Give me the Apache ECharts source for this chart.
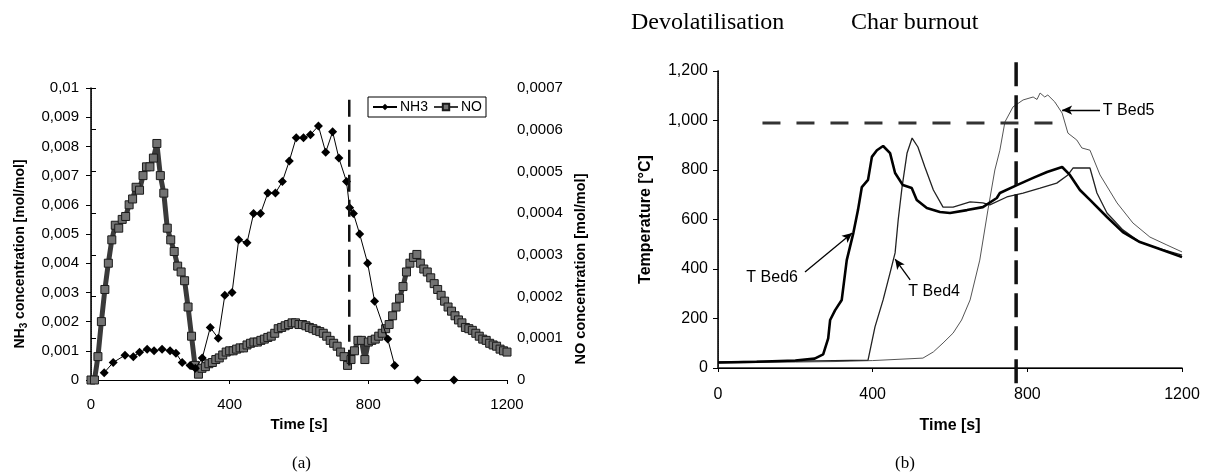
<!DOCTYPE html>
<html>
<head>
<meta charset="utf-8">
<script src="https://cdn.jsdelivr.net/npm/echarts@6.0.0/dist/echarts.min.js"></script>
<style>
  html, body { margin: 0; padding: 0; background: #fff; }
  #main { width: 1213px; height: 472px; }
</style>
</head>
<body>
<div id="main"></div>
<script>
// ---- panel (a): NH3 / NO concentrations ----
const nh3Time = [38, 64, 98, 122, 140, 162, 182, 205, 228, 245, 263, 286, 301, 321, 344, 367, 386, 407, 426, 450,
  469, 489, 510, 532, 552, 572, 592, 613, 633, 656, 677, 697, 715, 737, 746, 757, 775, 798, 818, 856, 876, 900, 942, 990, 1047];
const nh3Conc = [0.00025, 0.0006, 0.00085, 0.0008, 0.00095, 0.00105, 0.001, 0.00105, 0.001, 0.00092, 0.0006, 0.0005, 0.0004,
  0.00075, 0.0018, 0.00143, 0.0029, 0.003, 0.0048, 0.0047, 0.0057, 0.0057, 0.0064, 0.0064, 0.0068, 0.0075, 0.0083, 0.0083,
  0.0084, 0.0087, 0.0078, 0.0085, 0.0076, 0.0068, 0.0059, 0.0057, 0.005, 0.004, 0.0027, 0.0014, 0.0005, null, 0, null, 0];

const noTime = [0, 10, 20, 30, 40, 50, 60, 70, 80, 90, 100, 110, 120, 130, 140, 150, 160, 170, 180, 190,
  200, 210, 220, 230, 240, 250, 260, 270, 280, 290, 300, 310, 320, 330, 340, 350, 360, 370, 380, 390,
  400, 410, 420, 430, 440, 450, 460, 470, 480, 490, 500, 510, 520, 530, 540, 550, 560, 570, 580, 590,
  600, 610, 620, 630, 640, 650, 660, 670, 680, 690, 700, 710, 720, 730, 740, 750, 760, 770, 780, 790,
  800, 810, 820, 830, 840, 850, 860, 870, 880, 890, 900, 910, 920, 930, 940, 950, 960, 970, 980, 990,
  1000, 1010, 1020, 1030, 1040, 1050, 1060, 1070, 1080, 1090, 1100, 1110, 1120, 1130, 1140, 1150, 1160, 1170, 1180, 1190, 1200];
const noConc = [0, 0, 0.56e-4, 1.4e-4, 2.17e-4, 2.8e-4, 3.36e-4, 3.71e-4, 3.64e-4, 3.85e-4,
  3.92e-4, 4.2e-4, 4.34e-4, 4.62e-4, 4.55e-4, 4.9e-4, 5.11e-4, 5.11e-4, 5.32e-4, 5.67e-4,
  4.9e-4, 4.48e-4, 3.64e-4, 3.36e-4, 3.08e-4, 2.73e-4, 2.59e-4, 2.38e-4, 1.75e-4, 1.05e-4,
  0.35e-4, 0.14e-4, 0.28e-4, 0.32e-4, 0.39e-4, 0.42e-4, 0.49e-4, 0.53e-4, 0.6e-4, 0.67e-4,
  0.7e-4, 0.7e-4, 0.74e-4, 0.77e-4, 0.77e-4, 0.84e-4, 0.88e-4, 0.91e-4, 0.91e-4, 0.95e-4,
  0.98e-4, 1.02e-4, 1.05e-4, 1.12e-4, 1.23e-4, 1.26e-4, 1.3e-4, 1.33e-4, 1.37e-4, 1.37e-4,
  1.33e-4, 1.33e-4, 1.3e-4, 1.26e-4, 1.23e-4, 1.19e-4, 1.16e-4, 1.12e-4, 1.05e-4, 0.95e-4,
  0.88e-4, 0.81e-4, 0.67e-4, 0.56e-4, 0.35e-4, 0.49e-4, 0.7e-4, 0.95e-4, 0.95e-4, 0.49e-4,
  0.91e-4, 0.95e-4, 0.98e-4, 1.05e-4, 1.12e-4, 1.23e-4, 1.33e-4, 1.54e-4, 1.75e-4, 1.96e-4,
  2.24e-4, 2.59e-4, 2.8e-4, 2.94e-4, 3.01e-4, 2.8e-4, 2.66e-4, 2.59e-4, 2.45e-4, 2.31e-4,
  2.17e-4, 2.03e-4, 1.89e-4, 1.75e-4, 1.65e-4, 1.54e-4, 1.44e-4, 1.37e-4, 1.26e-4, 1.23e-4,
  1.19e-4, 1.12e-4, 1.05e-4, 0.98e-4, 0.95e-4, 0.88e-4, 0.84e-4, 0.81e-4, 0.74e-4, 0.7e-4, 0.67e-4];

// dashed marker line in (a): time, from, to
const markA = [745, 0.0096, 0.0005];

// ---- panel (b): bed temperatures ----
const bed6Time = [0, 100, 200, 250, 272, 285, 290, 303, 320, 333, 350, 362, 372, 388, 398, 411, 427, 445, 458, 478,
  501, 514, 540, 574, 600, 644, 685, 721, 729, 773, 815, 851, 890, 910, 936, 962, 1006, 1047, 1091, 1135, 1200];
const bed6Temp = [22, 25, 30, 38, 55, 120, 194, 234, 275, 436, 545, 638, 731, 760, 853, 880, 897, 868, 788, 739,
  727, 679, 646, 630, 626, 638, 650, 687, 707, 739, 768, 792, 812, 780, 719, 679, 610, 549, 509, 485, 448];

const bed4Time = [0, 100, 200, 300, 388, 406, 427, 445, 458, 466, 476, 489, 502, 517, 535, 557, 582, 608, 652, 685,
  703, 747, 789, 833, 876, 905, 918, 962, 980, 1006, 1047, 1091, 1135, 1200];
const bed4Temp = [25, 27, 28, 30, 32, 166, 275, 384, 465, 598, 731, 869, 929, 893, 812, 719, 650, 650, 671, 667,
  659, 691, 707, 727, 747, 780, 808, 808, 707, 626, 558, 509, 485, 456];

const bed5Time = [0, 100, 200, 300, 400, 530, 557, 582, 608, 630, 652, 677, 698, 716, 729, 742, 763, 789, 815, 825,
  833, 845, 853, 871, 890, 905, 928, 941, 962, 988, 1032, 1073, 1117, 1161, 1200];
const bed5Temp = [20, 22, 24, 26, 30, 40, 65, 101, 141, 194, 275, 436, 638, 800, 880, 994, 1055, 1083, 1095, 1085,
  1111, 1095, 1103, 1075, 1030, 949, 921, 889, 880, 780, 667, 586, 529, 497, 469];

// phase markers in (b)
const refLevel = [115, 877, 990];      // x from, x to, temperature
const phaseTime = [771, 1235, -85];    // time, y from, y to

// annotation labels: [text x, text y, arrow tail x, tail y, tip x, tip y]
const noteBed6 = [140, 364, 225, 388, 347, 545];
const noteBed4 = [559, 307, 497, 356, 458, 440];
const noteBed5 = [1062, 1042, 988, 1042, 890, 1042];

const zip = (xs, ys) => xs.map((x, i) => [x, ys[i] === null ? '-' : ys[i]]);

const FONT = 'Liberation Sans, Arial, sans-serif';
const SERIF = 'Liberation Serif, Times New Roman, serif';

const commaNum = (d) => (v) => v === 0 ? '0' : String(+v.toFixed(d)).replace('.', ',');
const thousands = (v) => v >= 1000 ? Math.floor(v / 1000) + ',' + String(v % 1000).padStart(3, '0') : String(v);
const plain = (v) => String(v);

function note(n, text) {
  return {
    markPoint: {
      silent: true, symbol: 'circle', symbolSize: 1,
      itemStyle: { color: 'rgba(0,0,0,0)' },
      label: { show: true, position: 'inside', formatter: text, color: '#000', fontFamily: FONT, fontSize: 16 },
      data: [{ coord: [n[0], n[1]] }]
    },
    markLine: {
      silent: true, symbol: ['none', 'arrow'], symbolSize: [7, 10],
      lineStyle: { color: '#000', width: 1.3, type: 'solid' },
      label: { show: false },
      data: [[{ coord: [n[2], n[3]] }, { coord: [n[4], n[5]] }]]
    }
  };
}

const chart = echarts.init(document.getElementById('main'));

const tickA = { color: '#000', fontFamily: FONT, fontSize: 15 };
const tickB = { color: '#000', fontFamily: FONT, fontSize: 16 };
const blackLine = { show: true, lineStyle: { color: '#000', width: 1 } };

const option = {
  backgroundColor: '#fff',
  animation: false,
  title: [
    { text: 'Devolatilisation', left: 626, top: 6, textStyle: { fontFamily: SERIF, fontSize: 24, fontWeight: 'normal', color: '#000' } },
    { text: 'Char burnout', left: 846, top: 6, textStyle: { fontFamily: SERIF, fontSize: 24, fontWeight: 'normal', color: '#000' } },
    { text: '(a)', left: 287, top: 450, textStyle: { fontFamily: SERIF, fontSize: 17, fontWeight: 'normal', color: '#000' } },
    { text: '(b)', left: 890, top: 450, textStyle: { fontFamily: SERIF, fontSize: 17, fontWeight: 'normal', color: '#000' } }
  ],
  legend: {
    data: ['NH3', 'NO'],
    left: 368, top: 97,
    orient: 'horizontal',
    backgroundColor: '#fff',
    borderColor: '#000', borderWidth: 1,
    padding: [3, 4, 3, 4],
    itemWidth: 24, itemHeight: 8, itemGap: 5,
    textStyle: { fontFamily: FONT, fontSize: 14, color: '#000', padding: [0, 0, 0, -2] }
  },
  grid: [
    { left: 91, top: 88, width: 416, height: 292 },
    { left: 718, top: 71, width: 464, height: 297 }
  ],
  xAxis: [
    {
      gridIndex: 0, type: 'value', min: 0, max: 1200, interval: 400,
      name: 'Time [s]', nameLocation: 'middle', nameGap: 35,
      nameTextStyle: { fontFamily: FONT, fontSize: 15, fontWeight: 'bold', color: '#000' },
      axisLine: { show: true, onZero: false, lineStyle: { color: '#000', width: 1 } },
      axisTick: { show: true, length: 4, lineStyle: { color: '#000' } },
      axisLabel: Object.assign({ margin: 17, formatter: plain }, tickA),
      splitLine: { show: false }
    },
    {
      gridIndex: 0, type: 'value', min: 0, max: 1200, position: 'top',
      axisLine: blackLine, axisTick: { show: false }, axisLabel: { show: false }, splitLine: { show: false }
    },
    {
      gridIndex: 1, type: 'value', min: 0, max: 1200, interval: 400,
      name: 'Time [s]', nameLocation: 'middle', nameGap: 50,
      nameTextStyle: { fontFamily: FONT, fontSize: 16, fontWeight: 'bold', color: '#000' },
      axisLine: { show: true, onZero: false, lineStyle: { color: '#222', width: 1.5 } },
      axisTick: { show: true, length: 4, lineStyle: { color: '#000' } },
      axisLabel: Object.assign({ margin: 19, formatter: plain }, tickB),
      splitLine: { show: false }
    },
    {
      gridIndex: 1, type: 'value', min: 0, max: 1200, position: 'top',
      axisLine: blackLine, axisTick: { show: false }, axisLabel: { show: false }, splitLine: { show: false }
    }
  ],
  yAxis: [
    {
      gridIndex: 0, type: 'value', min: 0, max: 0.01, interval: 0.001,
      name: '{b|NH}{s|3}{b| concentration [mol/mol]}', nameLocation: 'middle', nameGap: 62, nameRotate: 90,
      nameTextStyle: {
        padding: [0, 40, 0, 0],
        rich: {
          b: { fontFamily: FONT, fontSize: 14, fontWeight: 'bold', color: '#000', lineHeight: 18 },
          s: { fontFamily: FONT, fontSize: 10, fontWeight: 'bold', color: '#000', lineHeight: 18, verticalAlign: 'bottom' }
        }
      },
      axisLine: { show: true, lineStyle: { color: '#555', width: 1, type: 'dotted' } },
      axisTick: { show: true, length: 5, lineStyle: { color: '#000' } },
      axisLabel: Object.assign({ margin: 12, formatter: commaNum(4) }, tickA),
      splitLine: { show: false }
    },
    {
      gridIndex: 0, type: 'value', min: 0, max: 0.0007, interval: 0.0001, position: 'right',
      name: 'NO concentration [mol/mol]', nameLocation: 'middle', nameGap: 66, nameRotate: 90,
      nameTextStyle: { fontFamily: FONT, fontSize: 14.5, fontWeight: 'bold', color: '#000', padding: [0, 70, 0, 0] },
      axisLine: { show: true, lineStyle: { color: '#000', width: 1.5 } },
      axisTick: { show: true, length: 5, lineStyle: { color: '#000' } },
      axisLabel: Object.assign({ margin: 10, formatter: commaNum(5) }, tickA),
      splitLine: { show: false }
    },
    {
      gridIndex: 1, type: 'value', min: 0, max: 1200, interval: 200,
      name: 'Temperature [°C]', nameLocation: 'middle', nameGap: 64, nameRotate: 90,
      nameTextStyle: { fontFamily: FONT, fontSize: 16, fontWeight: 'bold', color: '#000' },
      axisLine: { show: true, lineStyle: { color: '#555', width: 1, type: 'dotted' } },
      axisTick: { show: true, length: 5, lineStyle: { color: '#000' } },
      axisLabel: Object.assign({ margin: 10, formatter: thousands }, tickB),
      splitLine: { show: false }
    },
    {
      gridIndex: 1, type: 'value', min: 0, max: 1200, position: 'right',
      axisLine: { show: true, lineStyle: { color: '#000', width: 1.5 } },
      axisTick: { show: false }, axisLabel: { show: false }, splitLine: { show: false }
    }
  ],
  series: [
    {
      name: 'NO', type: 'line', xAxisIndex: 0, yAxisIndex: 1,
      data: zip(noTime, noConc),
      symbol: 'rect', symbolSize: 8, showAllSymbol: true, clip: false,
      lineStyle: { color: '#3a3a3a', width: 5 },
      itemStyle: { color: '#727272', borderColor: '#1a1a1a', borderWidth: 1 },
      z: 2
    },
    {
      name: 'NH3', type: 'line', xAxisIndex: 0, yAxisIndex: 0,
      data: zip(nh3Time, nh3Conc),
      symbol: 'diamond', symbolSize: 9, showAllSymbol: true, connectNulls: false, clip: false,
      lineStyle: { color: '#000', width: 1 },
      itemStyle: { color: '#000' },
      z: 3
    },
    {
      name: 'markA', type: 'line', xAxisIndex: 0, yAxisIndex: 0,
      data: [[markA[0], markA[1]], [markA[0], markA[2]]],
      symbol: 'none', lineStyle: { color: '#111', width: 2.5, type: [17, 8] },
      z: 4
    },
    Object.assign({
      name: 'T Bed5', type: 'line', xAxisIndex: 2, yAxisIndex: 2,
      data: zip(bed5Time, bed5Temp), symbol: 'none',
      lineStyle: { color: '#555', width: 1 }
    }, note(noteBed5, 'T Bed5')),
    Object.assign({
      name: 'T Bed4', type: 'line', xAxisIndex: 2, yAxisIndex: 2,
      data: zip(bed4Time, bed4Temp), symbol: 'none',
      lineStyle: { color: '#222', width: 1.3 }
    }, note(noteBed4, 'T Bed4')),
    Object.assign({
      name: 'T Bed6', type: 'line', xAxisIndex: 2, yAxisIndex: 2,
      data: zip(bed6Time, bed6Temp), symbol: 'none',
      lineStyle: { color: '#000', width: 2.6 }
    }, note(noteBed6, 'T Bed6')),
    {
      name: 'ref', type: 'line', xAxisIndex: 2, yAxisIndex: 2,
      data: [[refLevel[0], refLevel[2]], [refLevel[1], refLevel[2]]],
      symbol: 'none', lineStyle: { color: '#333', width: 3, type: [18, 16] }
    },
    {
      name: 'phase', type: 'line', xAxisIndex: 2, yAxisIndex: 2,
      data: [[phaseTime[0], phaseTime[1]], [phaseTime[0], phaseTime[2]]],
      symbol: 'none', clip: false,
      lineStyle: { color: '#111', width: 3.5, type: [24, 9] },
      z: 5
    }
  ]
};

chart.setOption(option);
</script>
</body>
</html>
